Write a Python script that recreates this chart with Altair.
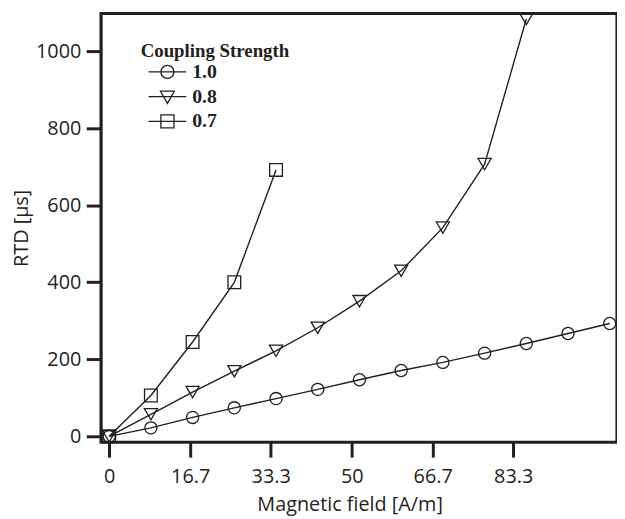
import altair as alt
import pandas as pd

INK = "#231f20"

# ---- data ----
field_x = [0, 8.6, 17.2, 25.8, 34.4, 43.0, 51.6, 60.2, 68.8, 77.4, 86.0, 94.6, 103.2]
rtd_10 = [0, 22, 49, 74, 98, 122, 147, 171, 192, 216, 241, 267, 293]
rtd_08 = [0, 57, 115, 169, 222, 282, 351, 430, 542, 707, 1084]
rtd_07 = [0, 106, 245, 400, 692]
series = ["1.0", "0.8", "0.7"]
x_ticks = [0, 16.7, 33.3, 50, 66.7, 83.3]
y_ticks = [0, 200, 400, 600, 800, 1000]

rows = []
for name, vals in zip(series, [rtd_10, rtd_08, rtd_07]):
    for xv, yv in zip(field_x, vals):
        rows.append({"x": xv, "y": yv, "series": name})
df = pd.DataFrame(rows)

# legend symbols: line through marker (custom paths)
circ = ("M0.66,0C0.66,0.3645,0.3645,0.66,0,0.66C-0.3645,0.66,-0.66,0.3645,-0.66,0"
        "C-0.66,-0.3645,-0.3645,-0.66,0,-0.66C0.3645,-0.66,0.66,-0.3645,0.66,0Z")
leg_paths = [
    "M-1.9,0H1.9" + circ,
    "M-1.9,0H1.9M-0.7,-0.55L0.7,-0.55L0,0.68Z",
    "M-1.9,0H1.9M-0.66,-0.66H0.66V0.66H-0.66Z",
]

xscale = alt.Scale(domain=[-1.67, 104.7], nice=False, zero=False)
yscale = alt.Scale(domain=[-15.4, 1098.3], nice=False, zero=False)

xaxis = alt.Axis(values=x_ticks, labelExpr="'' + datum.value", title="Magnetic field [A/m]",
                 titleX=251, titleY=69, titleBaseline="alphabetic",
                 labelBaseline="alphabetic", labelPadding=26)
yaxis = alt.Axis(values=y_ticks, format="d", title="RTD [μs]",
                 titleX=-74, titleBaseline="alphabetic", titleAngle=270,
                 labelPadding=5.5)

base = alt.Chart(df)
X = alt.X("x:Q", scale=xscale, axis=xaxis)
Y = alt.Y("y:Q", scale=yscale, axis=yaxis)

lines = base.mark_line(color=INK, strokeWidth=1.4).encode(x=X, y=Y, detail="series:N")

shapes = {"1.0": ("circle", 150), "0.8": ("triangle-down", 175), "0.7": ("square", 165)}
pts = []
for name in series:
    shp, sz = shapes[name]
    pts.append(
        base.transform_filter(alt.datum.series == name)
        .mark_point(shape=shp, size=sz, color=INK, strokeWidth=1.3, filled=False, opacity=1)
        .encode(x=X, y=Y)
    )

legend_layer = base.transform_filter("false").mark_point(
    color=INK, strokeWidth=1.3, filled=False, opacity=1
).encode(
    shape=alt.Shape(
        "series:N",
        scale=alt.Scale(domain=series, range=leg_paths),
        legend=alt.Legend(
            title="Coupling Strength", orient="none", legendX=40, legendY=29,
            titleFont="Liberation Serif", titleFontSize=19, titleFontWeight="bold",
            titleColor=INK, titlePadding=0,
            labelFont="Liberation Serif", labelFontSize=20, labelFontWeight="bold",
            labelColor=INK, labelOffset=14,
            symbolSize=400, symbolStrokeWidth=1.3, symbolStrokeColor=INK,
            symbolFillColor="transparent", symbolOffset=16, rowPadding=4, padding=0,
        ),
    )
)

chart = alt.layer(lines, *pts, legend_layer).properties(
    width=521, height=433,
    autosize=alt.AutoSizeParams(type="none"),
    padding={"left": 94, "top": 3, "right": 0, "bottom": 75},
).configure_view(
    stroke=INK, strokeWidth=3.2
).configure_axis(
    domain=False, grid=False, tickSize=15, tickWidth=3, tickColor=INK,
    labelFont="Open Sans", labelFontSize=20, labelColor=INK,
    titleFont="Open Sans", titleFontSize=20, titleFontWeight="normal", titleColor=INK,
)

chart.save("out.html", embed_options={"renderer": "svg", "actions": False})
